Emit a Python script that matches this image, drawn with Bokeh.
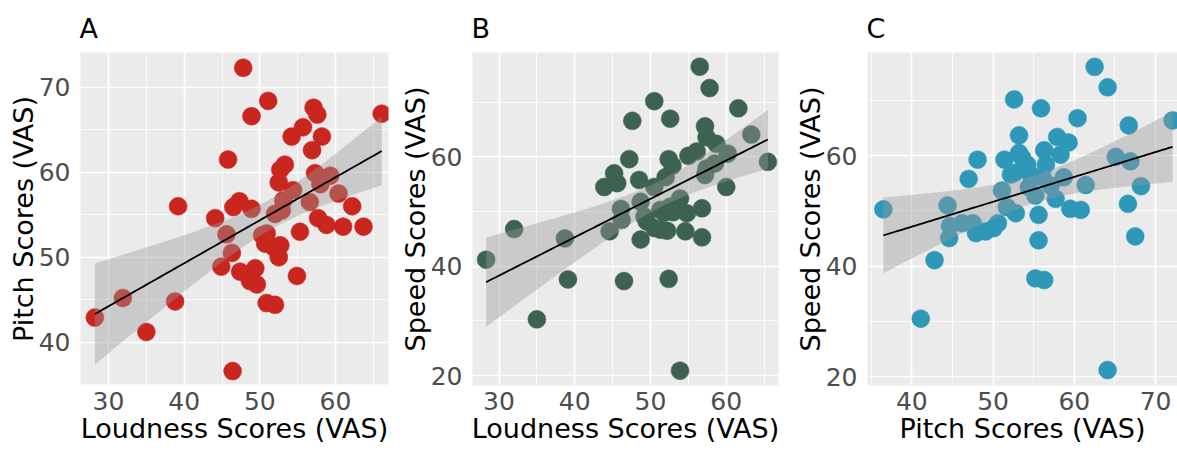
import numpy as np
from bokeh.plotting import figure
from bokeh.layouts import row
from bokeh.models import Range1d, SingleIntervalTicker, ColumnDataSource
from bokeh.embed import file_html
from bokeh.resources import INLINE

# ---------------- data ----------------
loudness_a = [28.2, 31.9, 35.0, 38.8, 39.2, 44.1, 44.9, 45.6, 45.8, 46.3, 46.4, 46.5, 47.3,
              47.8, 48.9, 48.9, 47.4, 49.4, 48.7, 49.6, 50.3, 50.7, 51.1, 50.9, 52.0, 51.8,
              52.7, 52.5, 52.5, 52.7, 53.3, 52.0, 52.9, 53.1, 54.4, 54.2, 55.7, 55.3, 54.9,
              56.6, 57.1, 57.6, 56.9, 58.2, 57.3, 58.0, 59.3, 57.7, 58.8, 60.4, 61.0, 62.2,
              63.7, 66.1, 50.9]
pitch_a = [42.9, 45.2, 41.2, 44.8, 56.0, 54.6, 48.9, 52.7, 61.5, 50.5, 36.6, 55.9, 56.6,
           72.3, 66.6, 55.7, 48.3, 48.7, 47.2, 46.8, 52.6, 51.6, 68.4, 44.6, 44.4, 51.2,
           51.4, 50.0, 58.8, 60.3, 60.9, 55.1, 55.5, 56.7, 57.9, 64.2, 65.3, 53.0, 47.8,
           56.5, 67.6, 66.8, 62.6, 64.2, 59.9, 58.6, 59.6, 54.6, 53.8, 57.5, 53.6, 56.0,
           53.6, 66.9, 52.8]

loudness_b = [28.3, 32.0, 35.0, 38.7, 39.1, 43.9, 45.2, 45.6, 44.6, 46.1, 46.2, 46.5, 47.2,
              47.6, 48.5, 48.7, 48.7, 49.2, 49.5, 50.5, 50.5, 50.5, 51.3, 51.3, 52.0, 52.2,
              52.4, 52.9, 52.6, 52.4, 52.6, 53.7, 53.9, 54.8, 54.6, 53.9, 55.0, 56.1, 56.8,
              56.8, 56.5, 57.8, 57.2, 57.4, 57.4, 57.2, 58.5, 58.7, 60.2, 60.0, 61.6, 63.3,
              65.5, 51.8, 53.0]
speed_b = [41.2, 46.8, 30.3, 45.1, 37.6, 54.5, 57.0, 55.2, 46.4, 50.5, 48.5, 37.3, 59.6,
           66.6, 55.8, 51.8, 44.9, 49.1, 48.2, 70.2, 54.5, 47.0, 46.7, 50.3, 56.3, 46.5,
           59.6, 58.4, 67.0, 37.7, 50.9, 50.6, 52.4, 49.7, 46.4, 20.9, 60.2, 61.0, 50.6,
           45.3, 76.5, 72.6, 65.6, 63.6, 57.9, 56.7, 58.8, 62.4, 60.6, 54.5, 68.9, 64.1,
           59.1, 49.8, 49.9]

pitch_c = [36.5, 41.1, 42.8, 44.4, 44.6, 44.7, 46.2, 47.0, 47.5, 47.9, 48.1, 49.1, 50.1,
           50.6, 51.1, 51.4, 51.7, 52.2, 52.6, 52.6, 52.8, 53.2, 53.2, 53.6, 54.2, 54.6,
           54.4, 55.2, 55.6, 55.6, 55.2, 56.3, 55.9, 56.3, 56.5, 56.1, 57.1, 57.7, 57.9,
           58.3, 59.3, 58.7, 59.5, 60.8, 60.4, 61.4, 62.5, 64.1, 64.1, 65.1, 66.9, 66.7,
           66.6, 67.5, 68.2, 72.1]
speed_c = [50.3, 30.5, 41.1, 51.0, 45.1, 47.3, 47.8, 55.8, 47.8, 46.0, 59.3, 46.3, 46.9,
           47.8, 53.7, 59.3, 50.7, 56.6, 56.9, 70.2, 49.6, 63.7, 60.5, 59.6, 58.4, 56.6,
           54.3, 52.8, 49.3, 44.7, 37.8, 37.5, 68.6, 61.0, 58.4, 56.1, 54.6, 52.2, 63.4,
           60.2, 62.4, 56.1, 50.4, 50.2, 66.8, 54.7, 76.1, 72.4, 21.2, 59.8, 59.0, 65.5,
           51.3, 45.4, 54.5, 66.4]

panel_titles = ["A", "B", "C"]
x_labels = ["Loudness Scores (VAS)", "Loudness Scores (VAS)", "Pitch Scores (VAS)"]
y_labels = ["Pitch Scores (VAS)", "Speed Scores (VAS)", "Speed Scores (VAS)"]
colors = ["#C8261E", "#3D6350", "#2F98B9"]

FONT = "DejaVu Sans"


def fit_band(x, y, n_pts=80):
    x = np.asarray(x, float)
    y = np.asarray(y, float)
    n = len(x)
    b, a = np.polyfit(x, y, 1)
    xs = np.linspace(x.min(), x.max(), n_pts)
    yhat = a + b * xs
    resid = y - (a + b * x)
    s = np.sqrt(np.sum(resid ** 2) / (n - 2))
    sxx = np.sum((x - x.mean()) ** 2)
    se = s * np.sqrt(1.0 / n + (xs - x.mean()) ** 2 / sxx)
    t = 2.005
    return xs, yhat, yhat - t * se, yhat + t * se


def make_panel(x, y, title, xlab, ylab, color, width, xr, yr, xint, yint,
               bl, br, bt, bb):
    p = figure(width=width, height=450, output_backend="svg", toolbar_location=None,
               x_range=Range1d(*xr), y_range=Range1d(*yr),
               min_border_left=bl, min_border_right=br,
               min_border_top=bt, min_border_bottom=bb,
               background_fill_color="#EBEBEB", border_fill_color="white",
               outline_line_color=None)
    p.title.text = title
    p.title.text_font = FONT
    p.title.text_font_size = "27px"
    p.title.text_font_style = "normal"
    p.title.text_color = "#000000"
    p.title.offset = -7
    p.title.standoff = 5
    p.title.padding = 6

    p.xaxis.ticker = SingleIntervalTicker(interval=xint, num_minor_ticks=2)
    p.yaxis.ticker = SingleIntervalTicker(interval=yint, num_minor_ticks=2)
    p.xgrid.ticker = p.xaxis.ticker
    p.ygrid.ticker = p.yaxis.ticker
    for g in (p.xgrid, p.ygrid):
        g.grid_line_color = "white"
        g.grid_line_width = 1.6
        g.minor_grid_line_color = "white"
        g.minor_grid_line_width = 0.8
    for ax in (p.xaxis, p.yaxis):
        ax.axis_line_color = None
        ax.major_tick_line_color = None
        ax.minor_tick_line_color = None
        ax.major_label_text_font = FONT
        ax.major_label_text_font_size = "25px"
        ax.major_label_text_color = "#4D4D4D"
        ax.axis_label_text_font = FONT
        ax.axis_label_text_font_size = "27px"
        ax.axis_label_text_font_style = "normal"
        ax.axis_label_text_color = "#000000"
    p.xaxis.axis_label = xlab
    p.yaxis.axis_label = ylab
    p.xaxis.major_label_standoff = 0
    p.xaxis.axis_label_standoff = 0
    p.yaxis.major_label_standoff = 4
    p.yaxis.axis_label_standoff = -3

    p.scatter(x, y, size=18, fill_color=color, line_color=color, line_width=0.5)
    xs, yhat, lo, hi = fit_band(x, y)
    src = ColumnDataSource(dict(x=xs, y=yhat, lo=lo, hi=hi))
    p.varea(x="x", y1="lo", y2="hi", source=src, fill_color="#999999", fill_alpha=0.4)
    p.line(x="x", y="y", source=src, line_color="black", line_width=1.8)
    return p


pa = make_panel(loudness_a, pitch_a, panel_titles[0], x_labels[0], y_labels[0], colors[0],
                392, (26.3, 67.0), (34.9, 74.1), 10, 10, 80, 4, 50, 65)
pb = make_panel(loudness_b, speed_b, panel_titles[1], x_labels[1], y_labels[1], colors[1],
                390, (26.5, 66.9), (18.2, 79.1), 10, 20, 80, 4, 50, 65)
pc = make_panel(pitch_c, speed_c, panel_titles[2], x_labels[2], y_labels[2], colors[2],
                395, (34.55, 72.7), (18.4, 78.7), 10, 20, 85, 0, 52, 57)

layout = row(pa, pb, pc)
open("out.html", "w").write(file_html(layout, INLINE))
